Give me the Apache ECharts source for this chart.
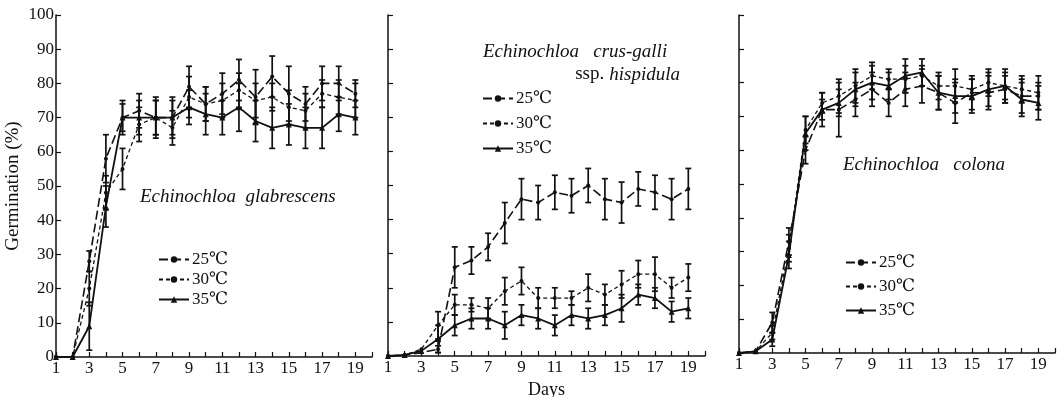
<!DOCTYPE html>
<html>
<head>
<meta charset="utf-8">
<script src="https://cdn.jsdelivr.net/npm/echarts@6/dist/echarts.min.js"></script>
<style>
  html, body { margin: 0; padding: 0; background: #fff; }
  #chart { width: 1057px; height: 397px; }
</style>
</head>
<body>
<div id="chart"></div>
<script>
// days after sowing
var days = [1, 2, 3, 4, 5, 6, 7, 8, 9, 10, 11, 12, 13, 14, 15, 16, 17, 18, 19];
var dayTicks = [1, 3, 5, 7, 9, 11, 13, 15, 17, 19];

// Echinochloa glabrescens
var glab25 = [0, 0, 28, 58, 70, 72, 70, 70, 79, 74, 77, 81, 76, 82, 77, 74, 80, 80, 77];
var glab30 = [0, 0, 20, 48, 55, 68, 70, 67, 76, 74, 75, 78, 75, 76, 73, 72, 77, 76, 75];
var glab35 = [0, 0, 9, 44, 70, 70, 70, 70, 73, 71, 70, 73, 69, 67, 68, 67, 67, 71, 70];
var glab25Err = [0, 0, 3, 7, 5, 5, 6, 5, 6, 5, 6, 6, 8, 6, 8, 5, 5, 5, 4];
var glab30Err = [0, 0, 5, 5, 6, 5, 5, 5, 6, 5, 5, 5, 5, 4, 5, 5, 4, 5, 5];
var glab35Err = [0, 0, 7, 6, 4, 5, 5, 6, 5, 6, 5, 7, 6, 6, 6, 6, 6, 5, 5];

// Echinochloa crus-galli ssp. hispidula
var crus25 = [0, 0.3, 1, 2, 26, 28, 32, 39, 46, 45, 48, 47, 50, 46, 45, 49, 48, 46, 49];
var crus30 = [0, 0.3, 2, 9, 15, 15, 14, 19, 22, 17, 17, 17, 20, 18, 21, 24, 24, 20, 23];
var crus35 = [0, 0.3, 1.5, 5, 9, 11, 11, 9, 12, 11, 9, 12, 11, 12, 14, 18, 17, 13, 14];
var crus25Err = [0, 0, 0, 1, 6, 4, 4, 6, 6, 5, 5, 5, 5, 6, 6, 5, 5, 6, 6];
var crus30Err = [0, 0, 0, 4, 3, 2, 3, 4, 4, 3, 3, 2, 4, 3, 4, 4, 5, 3, 4];
var crus35Err = [0, 0, 0, 4, 3, 3, 3, 4, 3, 3, 3, 3, 3, 3, 4, 3, 3, 3, 3];

// Echinochloa colona
var colo25 = [0, 0.5, 9, 33, 60, 72, 72, 75, 78, 74, 78, 79, 77, 74, 77, 77, 78, 76, 76];
var colo30 = [0, 0.5, 6, 31, 66, 74, 76, 79, 82, 81, 81, 82, 79, 79, 78, 80, 79, 78, 77];
var colo35 = [0, 0.5, 4, 29, 65, 72, 74, 78, 80, 79, 82, 83, 77, 76, 76, 78, 79, 75, 74];
var colo25Err = [0, 0, 3, 4, 4, 5, 8, 5, 5, 4, 5, 5, 5, 6, 5, 5, 4, 5, 4];
var colo30Err = [0, 0, 2, 4, 4, 3, 5, 5, 4, 3, 4, 3, 4, 5, 3, 4, 4, 4, 5];
var colo35Err = [0, 0, 2, 4, 5, 3, 4, 5, 5, 4, 5, 4, 5, 5, 5, 5, 5, 5, 5];

var ink = '#111';
var serif = 'Liberation Serif, DejaVu Serif, serif';

function pts(vals) {
    return days.map(function (d, i) { return [d, vals[i]]; });
}
function bars(vals, errs) {
    var out = [];
    days.forEach(function (d, i) {
        if (errs[i] > 0) out.push([d, vals[i] - errs[i], vals[i] + errs[i]]);
    });
    return out;
}
function errRender(params, api) {
    var lo = api.coord([api.value(0), api.value(1)]);
    var hi = api.coord([api.value(0), api.value(2)]);
    var w = 3;
    var st = { stroke: ink, lineWidth: 1.7 };
    return {
        type: 'group',
        children: [
            { type: 'line', shape: { x1: lo[0], y1: lo[1], x2: hi[0], y2: hi[1] }, style: st },
            { type: 'line', shape: { x1: lo[0] - w, y1: lo[1], x2: lo[0] + w, y2: lo[1] }, style: st },
            { type: 'line', shape: { x1: hi[0] - w, y1: hi[1], x2: hi[0] + w, y2: hi[1] }, style: st }
        ]
    };
}

var styles = {
    '25℃': { type: [9, 4], width: 1.6, symbol: 'circle', size: 4 },
    '30℃': { type: [4, 3], width: 1.3, symbol: 'circle', size: 4 },
    '35℃': { type: 'solid', width: 1.8, symbol: 'triangle', size: 6 }
};

function lineSeries(name, g, vals) {
    var s = styles[name];
    return {
        name: name, type: 'line', xAxisIndex: g, yAxisIndex: g,
        data: pts(vals),
        symbol: s.symbol, symbolSize: s.size,
        itemStyle: { color: ink },
        lineStyle: { color: ink, width: s.width, type: s.type },
        z: 3
    };
}
function errSeries(g, vals, errs) {
    return {
        name: 'err', type: 'custom', xAxisIndex: g, yAxisIndex: g,
        renderItem: errRender,
        encode: { x: 0, y: [1, 2] },
        data: bars(vals, errs),
        z: 2
    };
}

// fixed pixel boxes; outer bounds off so the names do not shrink the plots
var grids = [
    { left: 56, top: 15, width: 316, height: 342, outerBoundsMode: 'none', containLabel: false },
    { left: 388, top: 15, width: 317, height: 341, outerBoundsMode: 'none', containLabel: false },
    { left: 739, top: 15, width: 316, height: 338, outerBoundsMode: 'none', containLabel: false }
];

function xAx(g, name) {
    return {
        type: 'value', gridIndex: g, min: 1, max: 20, interval: 1,
        name: name || '', nameLocation: 'middle', nameGap: 25,
        nameTextStyle: { color: ink, fontFamily: serif, fontSize: 18 },
        axisLine: { lineStyle: { color: ink, width: 1.5 } },
        axisTick: { inside: true, length: 5, lineStyle: { color: ink, width: 1.2 } },
        axisLabel: {
            color: ink, fontFamily: serif, fontSize: 17, margin: 3,
            formatter: function (v) { return dayTicks.indexOf(v) >= 0 ? String(v) : ''; }
        },
        splitLine: { show: false }
    };
}
function yAx(g, showLabels) {
    return {
        type: 'value', gridIndex: g, min: 0, max: 100, interval: 10,
        name: showLabels ? 'Germination (%)' : '', nameLocation: 'middle', nameGap: 33,
        nameRotate: 90,
        nameTextStyle: { color: ink, fontFamily: serif, fontSize: 19 },
        axisLine: { show: true, lineStyle: { color: ink, width: 1.5 } },
        axisTick: { show: true, inside: true, length: 5, lineStyle: { color: ink, width: 1.2 } },
        axisLabel: { show: showLabels, color: ink, fontFamily: serif, fontSize: 17, margin: 2 },
        splitLine: { show: false }
    };
}

function legendAt(left, top, gap) {
    return {
        orient: 'vertical', left: left, top: top, itemGap: gap, padding: 0,
        itemWidth: 30, itemHeight: 8,
        data: ['25℃', '30℃', '35℃'],
        textStyle: { color: ink, fontFamily: serif, fontSize: 17, padding: [0, 0, 0, -2] },
        selectedMode: false
    };
}

var titleStyle = { color: ink, fontFamily: serif, fontSize: 19, fontStyle: 'italic', fontWeight: 'normal' };

var option = {
    animation: false,
    backgroundColor: '#fff',
    grid: grids,
    xAxis: [xAx(0), xAx(1, 'Days'), xAx(2)],
    yAxis: [yAx(0, true), yAx(1, false), yAx(2, false)],
    title: [
        { text: 'Echinochloa  glabrescens', left: 140, top: 187, padding: 0, textStyle: titleStyle },
        { text: 'Echinochloa   crus-galli', left: 483, top: 42, padding: 0, textStyle: titleStyle },
        {
            text: '{n|ssp.} {i|hispidula}', right: 377, top: 65, padding: 0,
            textStyle: {
                fontWeight: 'normal',
                rich: {
                    n: { color: ink, fontFamily: serif, fontSize: 19, fontWeight: 'normal' },
                    i: { color: ink, fontFamily: serif, fontSize: 19, fontStyle: 'italic', fontWeight: 'normal' }
                }
            }
        },
        { text: 'Echinochloa   colona', left: 843, top: 155, padding: 0, textStyle: titleStyle }
    ],
    legend: [legendAt(158, 251, 3), legendAt(482, 90, 8), legendAt(845, 254, 7)],
    series: [
        errSeries(0, glab25, glab25Err), errSeries(0, glab30, glab30Err), errSeries(0, glab35, glab35Err),
        lineSeries('25℃', 0, glab25), lineSeries('30℃', 0, glab30), lineSeries('35℃', 0, glab35),
        errSeries(1, crus25, crus25Err), errSeries(1, crus30, crus30Err), errSeries(1, crus35, crus35Err),
        lineSeries('25℃', 1, crus25), lineSeries('30℃', 1, crus30), lineSeries('35℃', 1, crus35),
        errSeries(2, colo25, colo25Err), errSeries(2, colo30, colo30Err), errSeries(2, colo35, colo35Err),
        lineSeries('25℃', 2, colo25), lineSeries('30℃', 2, colo30), lineSeries('35℃', 2, colo35)
    ]
};

var myChart = echarts.init(document.getElementById('chart'));
myChart.setOption(option);
</script>
</body>
</html>
